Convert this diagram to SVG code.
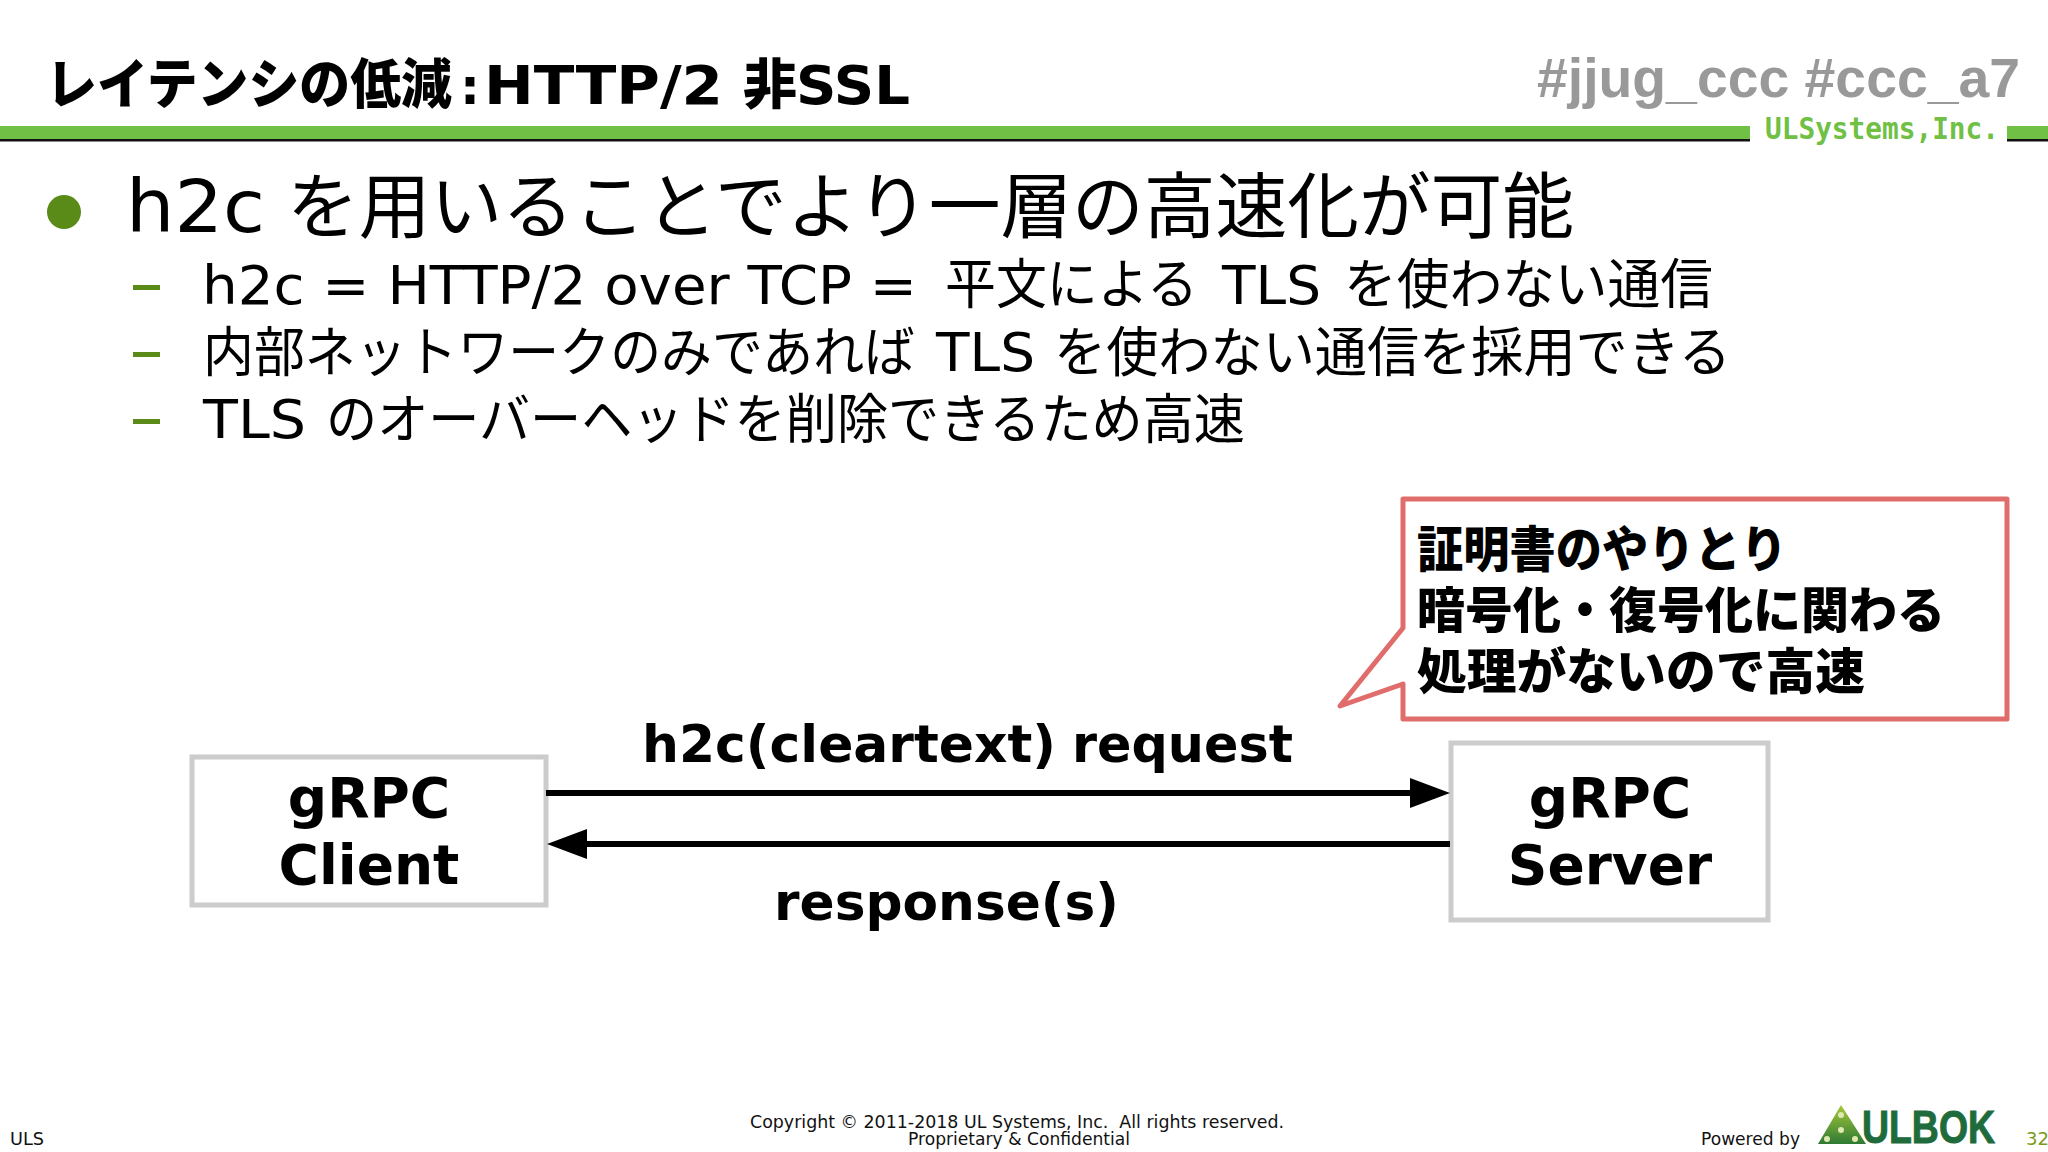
<svg xmlns="http://www.w3.org/2000/svg" width="2048" height="1152" viewBox="0 0 2048 1152">
<style>
.jp{font-family:"Noto Sans CJK JP",sans-serif;fill:#000}
.la{font-family:"DejaVu Sans",sans-serif;fill:#000}
.t{font-family:"Noto Sans CJK JP",sans-serif;font-weight:900;fill:#000}
.b{font-family:"DejaVu Sans",sans-serif;font-weight:700;fill:#000}
.f{font-family:"DejaVu Sans",sans-serif;font-size:18px;fill:#111;white-space:pre}
.box{fill:#fff;stroke:#ccc;stroke-width:5}
.c{stroke:#000;stroke-width:6;fill:none}
.d{fill:#5a8a18}
</style>
<defs>
<marker id="ah" markerUnits="userSpaceOnUse" markerWidth="40" markerHeight="30" refX="1" refY="15" orient="auto" overflow="visible"><path d="M0 0L40 15L0 30Z" fill="#000"/></marker>
<linearGradient id="tri" x1="0" y1="0" x2="0" y2="1"><stop offset="0" stop-color="#a8c838"/><stop offset="1" stop-color="#2e7a34"/></linearGradient>
</defs>
<rect width="2048" height="1152" fill="#fff"/>
<g id="header">
<text class="t" x="46" y="104" font-size="54" textLength="406" lengthAdjust="spacingAndGlyphs">レイテンシの低減</text>
<text class="b" x="460" y="104" font-size="50">:</text>
<text class="b" x="484" y="104" font-size="53" textLength="239" lengthAdjust="spacingAndGlyphs">HTTP/2</text>
<text class="t" x="743" y="104" font-size="54" textLength="54" lengthAdjust="spacingAndGlyphs">非</text>
<text class="b" x="796" y="104" font-size="53" textLength="114" lengthAdjust="spacingAndGlyphs">SSL</text>
<text x="1537" y="97" font-size="56" font-weight="700" fill="#999" font-family="Liberation Sans, sans-serif" textLength="483" lengthAdjust="spacingAndGlyphs">#jjug_ccc #ccc_a7</text>
<rect x="0" y="126" width="1750" height="13" fill="#70c045"/><rect x="0" y="139" width="1750" height="2.500" fill="#111"/>
<rect x="2007" y="126" width="41" height="13" fill="#70c045"/><rect x="2007" y="139" width="41" height="2.500" fill="#111"/>
<text x="1765" y="139" font-size="30" font-weight="700" fill="#70c045" font-family="DejaVu Sans Mono, monospace" textLength="234" lengthAdjust="spacingAndGlyphs">ULSystems,Inc.</text>
</g>
<g id="bullets">
<ellipse cx="64" cy="212" rx="17" ry="17" fill="#5a8a18"/>
<text class="la" x="126" y="232" font-size="73" textLength="139" lengthAdjust="spacingAndGlyphs">h2c</text>
<text class="jp" x="287" y="232" font-size="72" textLength="1287" lengthAdjust="spacingAndGlyphs">を用いることでより一層の高速化が可能</text>
<rect class="d" x="133" y="285" width="27" height="5"/>
<rect class="d" x="133" y="352" width="27" height="5"/>
<rect class="d" x="133" y="419" width="27" height="5"/>
<text class="la" x="202" y="304" font-size="54" textLength="715" lengthAdjust="spacingAndGlyphs">h2c = HTTP/2 over TCP =</text>
<text class="jp" x="945" y="304" font-size="54" textLength="253" lengthAdjust="spacingAndGlyphs">平文による</text>
<text class="la" x="1222" y="304" font-size="54" textLength="99" lengthAdjust="spacingAndGlyphs">TLS</text>
<text class="jp" x="1344" y="304" font-size="54" textLength="369" lengthAdjust="spacingAndGlyphs">を使わない通信</text>
<text class="jp" x="203" y="372" font-size="54" textLength="712" lengthAdjust="spacingAndGlyphs">内部ネットワークのみであれば</text>
<text class="la" x="936" y="371" font-size="54" textLength="99" lengthAdjust="spacingAndGlyphs">TLS</text>
<text class="jp" x="1054" y="372" font-size="54" textLength="677" lengthAdjust="spacingAndGlyphs">を使わない通信を採用できる</text>
<text class="la" x="203" y="438" font-size="54" textLength="103" lengthAdjust="spacingAndGlyphs">TLS</text>
<text class="jp" x="326" y="439" font-size="54" textLength="919" lengthAdjust="spacingAndGlyphs">のオーバーヘッドを削除できるため高速</text>
</g>
<g id="callout">
<path d="M1403 499H2007V719H1403V684L1340 706L1403 628Z" fill="#fff" stroke="#e06c6c" stroke-width="5" stroke-linejoin="round"/>
<text class="t" x="1417" y="567" font-size="49" textLength="370" lengthAdjust="spacingAndGlyphs">証明書のやりとり</text>
<text class="t" x="1417" y="628" font-size="49" textLength="528" lengthAdjust="spacingAndGlyphs">暗号化・復号化に関わる</text>
<text class="t" x="1417" y="689" font-size="49" textLength="448" lengthAdjust="spacingAndGlyphs">処理がないので高速</text>
</g>
<g id="client">
<rect class="box" x="192" y="757" width="354" height="148"/>
<text class="b" x="369" y="817" font-size="55" text-anchor="middle">gRPC</text>
<text class="b" x="369" y="884" font-size="55" text-anchor="middle">Client</text>
</g>
<g id="server">
<rect class="box" x="1451" y="743" width="317" height="177"/>
<text class="b" x="1610" y="817" font-size="55" text-anchor="middle">gRPC</text>
<text class="b" x="1610" y="884" font-size="55" text-anchor="middle">Server</text>
</g>
<g id="connectors">
<line class="c" x1="546" y1="793" x2="1411" y2="793" marker-end="url(#ah)"/>
<line class="c" x1="1450" y1="844" x2="586" y2="844" marker-end="url(#ah)"/>
<text class="b" x="642" y="762" font-size="52" textLength="414" lengthAdjust="spacingAndGlyphs">h2c(cleartext)</text>
<text class="b" x="1072" y="762" font-size="52" textLength="221" lengthAdjust="spacingAndGlyphs">request</text>
<text class="b" x="774" y="920" font-size="52" textLength="345" lengthAdjust="spacingAndGlyphs">response(s)</text>
</g>
<g id="footer">
<text class="f" x="10" y="1145" textLength="34" lengthAdjust="spacingAndGlyphs">ULS</text>
<text class="f" x="750" y="1128" textLength="534" lengthAdjust="spacingAndGlyphs">Copyright © 2011-2018 UL Systems, Inc.  All rights reserved.</text>
<text class="f" x="908" y="1145" textLength="222" lengthAdjust="spacingAndGlyphs">Proprietary &amp; Confidential</text>
<text class="f" x="1701" y="1145" textLength="99" lengthAdjust="spacingAndGlyphs">Powered by</text>
<text x="2026" y="1145" font-size="18" fill="#7a9a20" font-family="DejaVu Sans, sans-serif">32</text>
<path d="M1841 1105L1866 1144H1818Z" fill="url(#tri)"/>
<circle cx="1841" cy="1115" r="3" fill="#dfe8b0"/><circle cx="1841" cy="1130" r="3" fill="#dfe8b0"/><circle cx="1827" cy="1139" r="3" fill="#dfe8b0"/><circle cx="1855" cy="1139" r="3" fill="#dfe8b0"/>
<text x="1862" y="1143" font-size="46" font-weight="700" fill="#1f6b3c" stroke="#1f6b3c" stroke-width="1" font-family="Liberation Sans, sans-serif" textLength="133" lengthAdjust="spacingAndGlyphs">ULBOK</text>
</g>
</svg>
